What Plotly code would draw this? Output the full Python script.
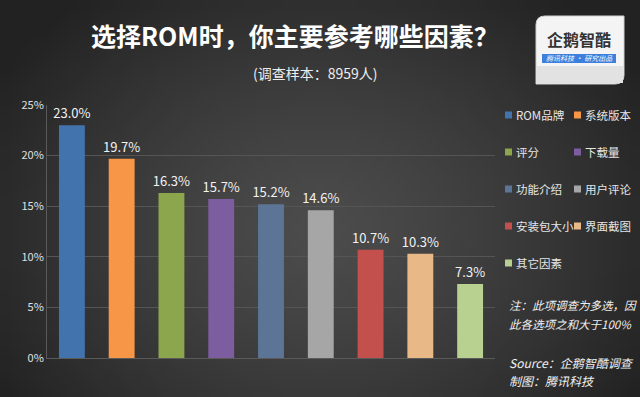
import base64, struct, zlib
import plotly.graph_objects as go

categories = ["ROM品牌", "系统版本", "评分", "下载量", "功能介绍", "用户评论", "安装包大小", "界面截图", "其它因素"]
values = [23.0, 19.7, 16.3, 15.7, 15.2, 14.6, 10.7, 10.3, 7.3]
colors = ["#4373ad", "#f79646", "#8ca64d", "#7b5da0", "#5c7597", "#a6a6a6", "#c4504e", "#e8b987", "#b8d190"]
y_ticks = [0, 5, 10, 15, 20, 25]
y_tick_labels = ["0%", "5%", "10%", "15%", "20%", "25%"]
title_text = "选择ROM时，你主要参考哪些因素？"
subtitle_text = "(调查样本：8959人)"
note_lines = ["注：此项调查为多选，因", "此各选项之和大于100%"]
source_lines = ["Source：企鹅智酷调查", "制图：腾讯科技"]

W, H = 640, 397
ML, MR, MT, MB = 47, 145, 105, 39
PW, PH = W - ML - MR, H - MT - MB
FONT = "Noto Sans CJK SC"


def px(x):
    return (x - ML) / PW


def py(y):
    return 1 - (y - MT) / PH


def make_bg_png(w=80, h=50):
    rows = b""
    for j in range(h):
        row = b"\x00"
        for i in range(w):
            x = (i + 0.5) / w * W
            y = (j + 0.5) / h * H
            d = (((x - 320) / 380) ** 2 + ((y - 230) / 300) ** 2) ** 0.5
            d = min(d, 1.0)
            v = int(round(76 - (76 - 34) * d ** 1.3))
            row += bytes([v, v, v])
        rows += row

    def chunk(tag, data):
        c = struct.pack(">I", len(data)) + tag + data
        return c + struct.pack(">I", zlib.crc32(tag + data) & 0xFFFFFFFF)

    png = b"\x89PNG\r\n\x1a\n"
    png += chunk(b"IHDR", struct.pack(">IIBBBBB", w, h, 8, 2, 0, 0, 0))
    png += chunk(b"IDAT", zlib.compress(rows, 9))
    png += chunk(b"IEND", b"")
    return "data:image/png;base64," + base64.b64encode(png).decode()


fig = go.Figure()
fig.add_trace(go.Bar(
    x=categories, y=values,
    marker=dict(color=colors, line=dict(width=0)),
    width=0.52,
    text=[f"{v:.1f}%" for v in values],
    textposition="outside",
    textfont=dict(family=FONT, size=13, color="#f2f2f2"),
    constraintext="none",
    cliponaxis=False,
    showlegend=False,
    hoverinfo="skip",
))

shapes = []
annotations = []


def ann(x, y, text, size, color, anchor="left", **kw):
    annotations.append(dict(xref="paper", yref="paper", x=px(x), y=py(y),
                            xanchor=anchor, yanchor="middle", showarrow=False,
                            text=text, font=dict(family=FONT, size=size, color=color), **kw))


# Legend (two columns) built from the category list
for k, (name, col) in enumerate(zip(categories, colors)):
    r, c = divmod(k, 2)
    lx = 505 if c == 0 else 574
    ly = 115 + r * 37
    shapes.append(dict(type="rect", xref="paper", yref="paper",
                       x0=px(lx), x1=px(lx + 7), y0=py(ly + 3.5), y1=py(ly - 3.5),
                       fillcolor=col, line=dict(width=0)))
    ann(lx + 9, ly, name, 11.5, "#e6e6e6")

# Notes
for idx, line in enumerate(note_lines):
    ann(507, 305 + idx * 19, f"<i>{line}</i>", 11.5, "#f0f0f0")
for idx, line in enumerate(source_lines):
    ann(507, 362 + idx * 18, f"<i>{line}</i>", 12, "#f0f0f0")

# Title and subtitle
ann(295, 35, f"<b>{title_text}</b>", 25, "#ffffff", anchor="center")
ann(315, 73, subtitle_text, 14, "#eeeeee", anchor="center")

# Logo box
x0, x1, y0, y1, rr = 536, 624, 16, 84, 9
path = (f"M {px(x0 + rr)} {py(y0)} L {px(x1)} {py(y0)} L {px(x1)} {py(y1 - rr)} "
        f"Q {px(x1)} {py(y1)} {px(x1 - rr)} {py(y1)} L {px(x0)} {py(y1)} L {px(x0)} {py(y0 + rr)} "
        f"Q {px(x0)} {py(y0)} {px(x0 + rr)} {py(y0)} Z")
shapes.append(dict(type="path", xref="paper", yref="paper", path=path,
                   fillcolor="#f4f4f4", line=dict(color="#d0d0d0", width=1)))
shapes.append(dict(type="rect", xref="paper", yref="paper",
                   x0=px(537), x1=px(623), y0=py(83), y1=py(66),
                   fillcolor="#e2e2e2", line=dict(width=0)))
shapes.append(dict(type="rect", xref="paper", yref="paper",
                   x0=px(542), x1=px(616), y0=py(63), y1=py(54),
                   fillcolor="#3d7fdc", line=dict(width=0)))
ann(579, 39, "<b>企鹅智酷</b>", 16, "#333333", anchor="center")
ann(579, 58.5, "<i>腾讯科技 · 研究出品</i>", 7, "#ffffff", anchor="center")

fig.update_layout(
    width=W, height=H,
    margin=dict(l=ML, r=MR, t=MT, b=MB, pad=0),
    paper_bgcolor="#333333",
    plot_bgcolor="rgba(0,0,0,0)",
    xaxis=dict(showticklabels=False, showgrid=False, zeroline=False,
               showline=True, linecolor="#5a5a5a", linewidth=1, ticks="",
               range=[-0.5, len(categories) - 0.5]),
    yaxis=dict(range=[0, 25], tickmode="array", tickvals=y_ticks, ticktext=y_tick_labels,
               showgrid=True, gridcolor="#555555", gridwidth=1,
               zeroline=False, showline=True, linecolor="#5a5a5a", linewidth=1,
               tickfont=dict(family=FONT, size=11, color="#e0e0e0"), ticks=""),
    images=[dict(source=make_bg_png(), xref="paper", yref="paper",
                 x=px(0), y=py(0), sizex=W / PW, sizey=H / PH, sizing="stretch",
                 layer="below", xanchor="left", yanchor="top")],
    shapes=shapes,
    annotations=annotations,
    font=dict(family=FONT),
)

fig.write_html("out.html", config={"displayModeBar": False},
               post_script="document.body.style.margin='0';document.body.style.overflow='hidden';")
